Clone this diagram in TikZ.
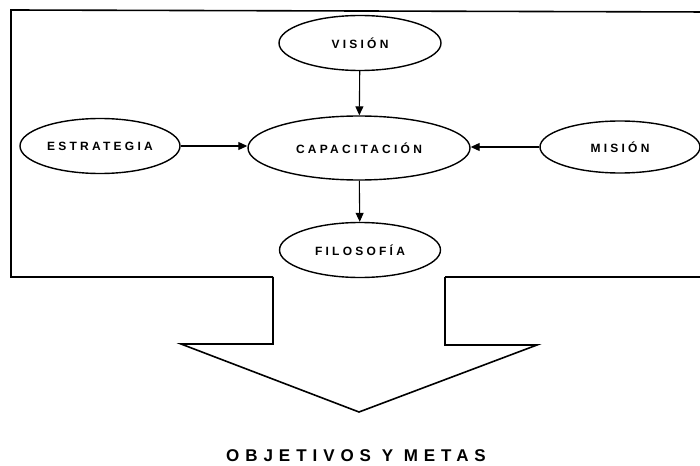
\documentclass[tikz,border=0pt]{standalone}
\usepackage{fontspec}
\setmainfont{Liberation Sans}
\usetikzlibrary{arrows.meta,shapes.geometric}
\newfontfamily\lblfont[LetterSpace=27]{Liberation Sans Bold}
\newfontfamily\bigfont[LetterSpace=35]{Liberation Sans Bold}
\begin{document}
\begin{tikzpicture}[x=1pt,y=-1pt,
  oval/.style={draw,line width=1.4pt,ellipse,minimum width=162pt,minimum height=55pt,inner sep=0pt,font=\lblfont\fontsize{12pt}{14pt}\selectfont},
  link/.style={line width=1.1pt,-{Triangle[length=9pt,width=8pt]}},
  frame/.style={line width=1.6pt}]
\useasboundingbox (0,0) rectangle (700,465);
\clip (0,0) rectangle (700,465);
\node[oval] (vis) at (360,43) {VISIÓN};
\node[oval,minimum width=222pt,minimum height=64pt] (cap) at (359,148) {CAPACITACIÓN};
\node[oval,minimum width=160pt] (est) at (100,146) {ESTRATEGIA};
\node[oval,minimum width=160pt,minimum height=52pt] (mis) at (620,147) {MISIÓN};
\node[oval,minimum width=161pt] (fil) at (360,250) {FILOSOFÍA};
\draw[link] (vis) -- (cap);
\draw[link] (est.east) -- (cap.west |- est.east);
\draw[link] (mis.west) -- (cap.east |- mis.west);
\draw[link] (cap) -- (fil);
\coordinate (fl) at (273,277);
\coordinate (fr) at (445,277);
\draw[frame] (fl) -- (11,277) -- (11,10) -- (710,12);
\draw[frame] (fr) -- (710,277);
\draw[frame] (fl) -- (273,344) -- (181,344) -- (359,412) -- (537,345) -- (445,345) -- (fr);
\node[font=\bigfont\fontsize{17pt}{20pt}\selectfont] (obj) at (356,456) {OBJETIVOS Y METAS};
\end{tikzpicture}
\end{document}
